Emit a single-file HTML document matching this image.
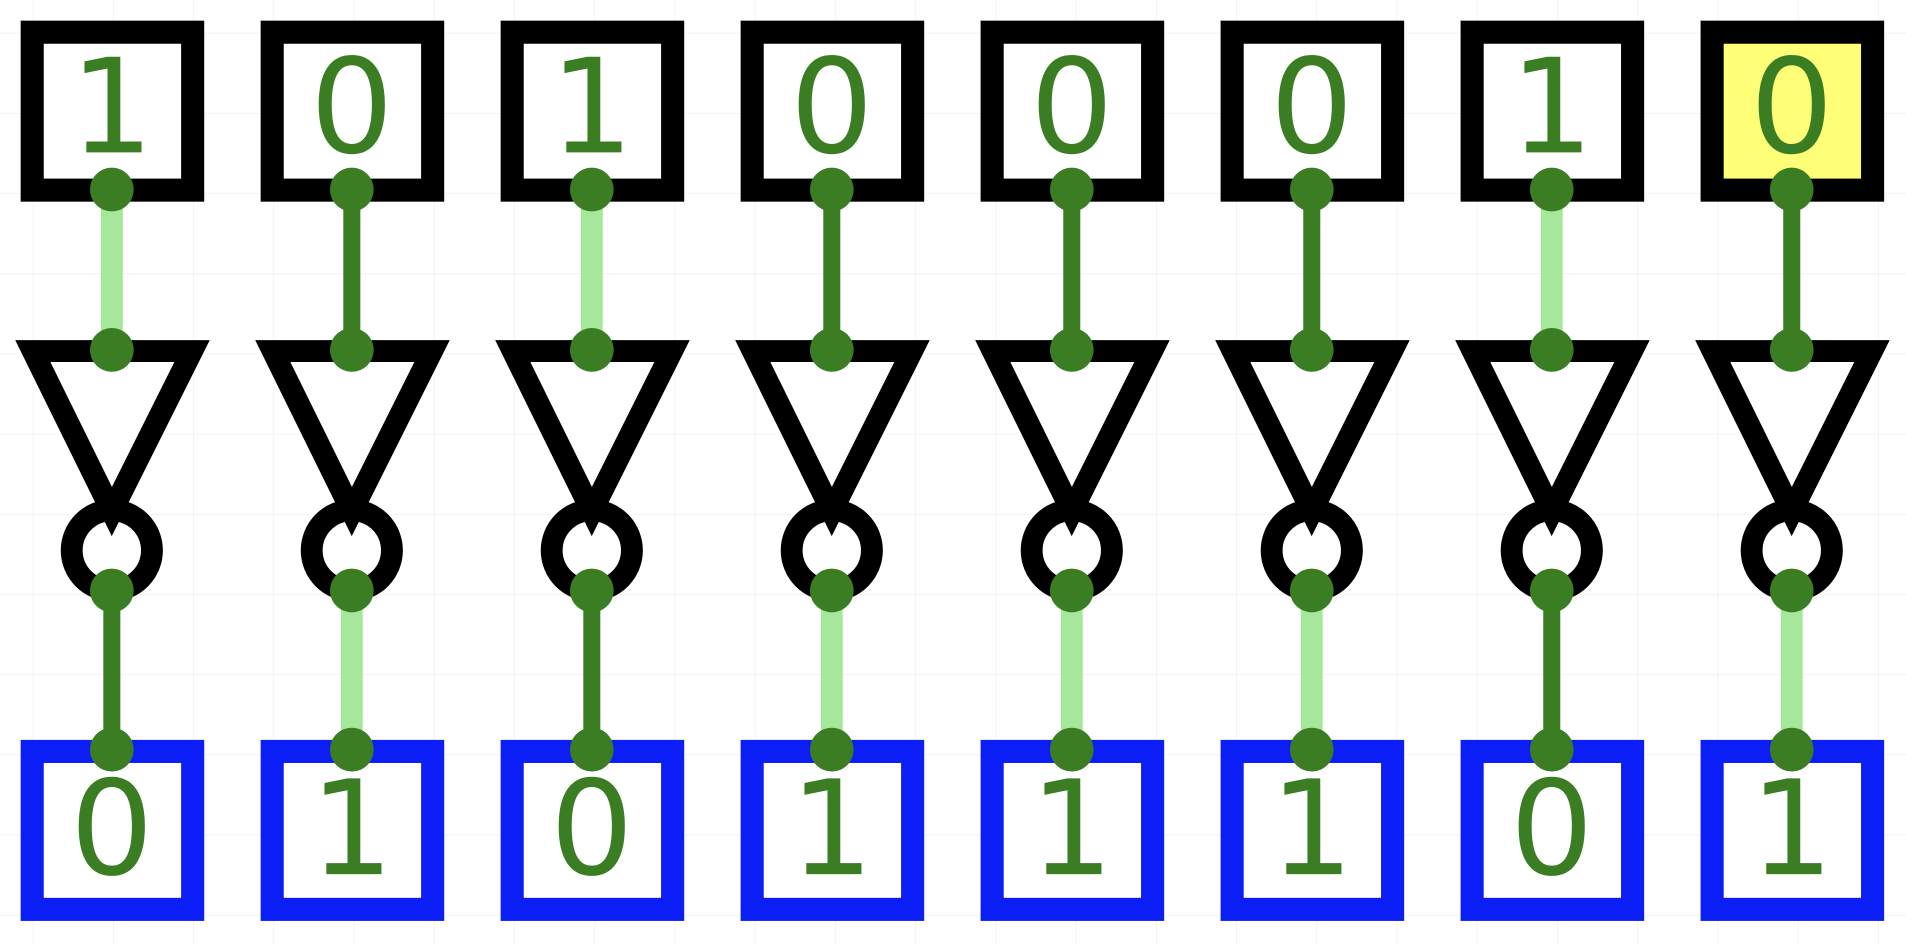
<!DOCTYPE html>
<html><head><meta charset="utf-8"><style>
html,body{margin:0;padding:0;background:#fff;overflow:hidden}
svg{display:block}
text{font-family:"DejaVu Sans","Liberation Sans",sans-serif;font-size:108px;fill:#3a7d22;text-anchor:middle;dominant-baseline:central}
</style></head><body>
<svg width="1906" height="944" viewBox="0 0 1568 777" preserveAspectRatio="none" xmlns="http://www.w3.org/2000/svg">
<defs>
<pattern id="g" x="27" y="27" width="66" height="66" patternUnits="userSpaceOnUse">
<path d="M0 0H66M0 0V66" stroke="#ececec" stroke-width="1" fill="none"/>
</pattern>
</defs>
<rect width="1568" height="777" fill="url(#g)"/>
<g id="cols"></g>
</svg>
<script>
var ins=[1,0,1,0,0,0,1,0];
var g=document.getElementById('cols');var h='';
for(var i=0;i<8;i++){
 var x=92+i*197.43; var a=ins[i], o=1-a;
 var dk='#3a7d22', lt='#a6e89a';
 var w1='<line x1="'+x+'" y1="156" x2="'+x+'" y2="288" stroke="'+(a?lt:dk)+'" stroke-width="'+(a?18:14)+'"/>';
 var w2='<line x1="'+x+'" y1="486" x2="'+x+'" y2="617" stroke="'+(o?lt:dk)+'" stroke-width="'+(o?18:14)+'"/>';
 h+='<rect x="'+(x-65.5)+'" y="26.5" width="132" height="130" fill="'+(i==7?'#ffff77':'#fff')+'" stroke="#000" stroke-width="19"/>';
 h+='<text x="'+x+'" y="88">'+a+'</text>';
 h+='<circle cx="'+x+'" cy="453" r="33" fill="#fff" stroke="#000" stroke-width="18"/>';
 h+='<polygon points="'+(x-65)+',289 '+(x+66)+',289 '+x+',421" fill="#fff" stroke="#000" stroke-width="18" stroke-linejoin="miter"/>';
 h+='<rect x="'+(x-65.5)+'" y="618.5" width="132" height="130" fill="#fff" stroke="#0a1ef5" stroke-width="19"/>';
 h+='<text x="'+x+'" y="682">'+o+'</text>';
 h+=w1+w2;
 [156,288,486,617].forEach(function(y){h+='<circle cx="'+x+'" cy="'+y+'" r="18" fill="#3a7d22"/>';});
}
g.innerHTML=h;
</script>
</body></html>
